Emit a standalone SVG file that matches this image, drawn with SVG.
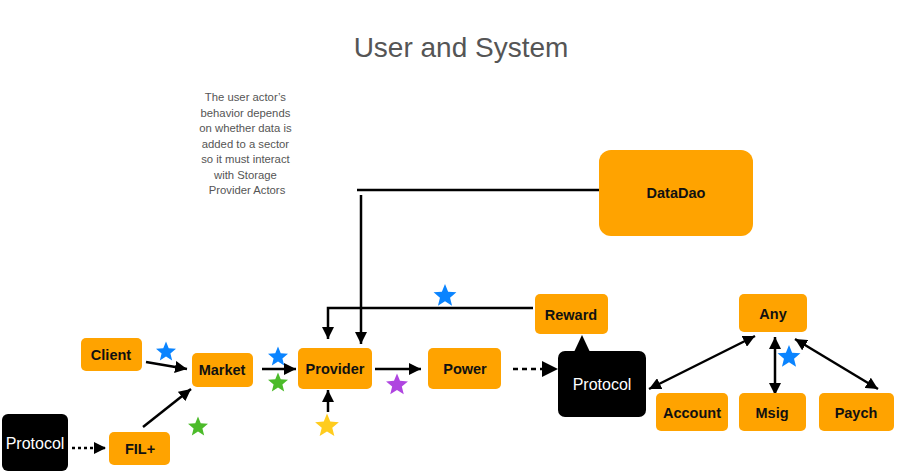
<svg xmlns="http://www.w3.org/2000/svg" width="900" height="472" viewBox="0 0 900 472">
<style>
.box{fill:#FFA300}
.blk{fill:#000}
.lbl{font-family:"Liberation Sans",Arial,sans-serif;font-weight:bold;font-size:14.5px;fill:#111;text-anchor:middle;dominant-baseline:central}
.wl{fill:#fff;font-weight:normal;font-size:16px}
.ln{fill:none;stroke:#000;stroke-width:2.5}
.note{font-family:"Liberation Sans",Arial,sans-serif;font-size:11.3px;fill:#555;text-anchor:middle}
.title{font-family:"Liberation Sans",Arial,sans-serif;font-size:28px;fill:#555;text-anchor:middle}
</style>
<defs>
<marker id="ah" markerUnits="userSpaceOnUse" markerWidth="12" markerHeight="12" refX="12" refY="6" orient="auto-start-reverse">
<path d="M0,0 L12,6 L0,12 z" fill="#000"/>
</marker>
<marker id="ahb" markerUnits="userSpaceOnUse" markerWidth="16" markerHeight="16" refX="16" refY="8" orient="auto">
<path d="M0,0 L16,8 L0,16 z" fill="#000"/>
</marker>
<path id="star" d="M0,-10 L2.6,-3.6 L9.51,-3.09 L4.2,1.4 L5.88,8.09 L0,4.4 L-5.88,8.09 L-4.2,1.4 L-9.51,-3.09 L-2.6,-3.6 z"/>
</defs>
<rect width="900" height="472" fill="#fff"/>
<text class="title" x="461" y="57">User and System</text>
<text class="note">
<tspan x="247" y="101">The user actor’s</tspan>
<tspan x="247" y="117">behavior depends</tspan>
<tspan x="247" y="132">on whether data is</tspan>
<tspan x="247" y="148">added to a sector</tspan>
<tspan x="247" y="163">so it must interact</tspan>
<tspan x="247" y="179">with Storage</tspan>
<tspan x="247" y="194">Provider Actors</tspan>
</text>
<g id="connectors">
<path class="ln" d="M599,190 H357"/>
<path class="ln" d="M361,195 V344" marker-end="url(#ah)"/>
<path class="ln" d="M533,308 H328 V339" marker-end="url(#ah)"/>
<path class="ln" d="M146,362 L187,369" marker-end="url(#ah)"/>
<path class="ln" d="M143,427 L191,389" marker-end="url(#ah)"/>
<path class="ln" d="M72,448 H106" stroke-dasharray="3 3" marker-end="url(#ah)"/>
<path class="ln" d="M262,369 H296" marker-end="url(#ah)"/>
<path class="ln" d="M375,369 H421" marker-end="url(#ah)"/>
<path class="ln" d="M328,412 V390" marker-end="url(#ah)"/>
<path class="ln" d="M513,369 H558" stroke-width="4.5" stroke-dasharray="5 4" marker-end="url(#ahb)"/>
<polygon points="574,352 590,352 582,335" fill="#000"/>
<path class="ln" d="M649,389 L755,336" marker-start="url(#ah)" marker-end="url(#ah)"/>
<path class="ln" d="M775,337 V395" marker-start="url(#ah)" marker-end="url(#ah)"/>
<path class="ln" d="M795,339 L878,389" marker-start="url(#ah)" marker-end="url(#ah)"/>
</g>
<g id="datadao"><rect class="box" x="599" y="150" width="154" height="86" rx="12"/><text class="lbl" x="676" y="193">DataDao</text></g>
<g id="client"><rect class="box" x="81" y="338" width="61" height="33" rx="5"/><text class="lbl" x="111" y="355">Client</text></g>
<g id="market"><rect class="box" x="192" y="353" width="61" height="34" rx="5"/><text class="lbl" x="222" y="370">Market</text></g>
<g id="provider"><rect class="box" x="298" y="348" width="74" height="41" rx="5"/><text class="lbl" x="335" y="369">Provider</text></g>
<g id="power"><rect class="box" x="428" y="348" width="73" height="41" rx="5"/><text class="lbl" x="465" y="369">Power</text></g>
<g id="filplus"><rect class="box" x="109" y="432" width="61" height="33" rx="5"/><text class="lbl" x="140" y="449">FIL+</text></g>
<g id="protocol-left"><rect class="blk" x="2" y="414" width="66" height="57" rx="6"/><text class="lbl wl" x="35" y="443">Protocol</text></g>
<g id="protocol"><rect class="blk" x="558" y="351" width="88" height="66" rx="7"/><text class="lbl wl" x="602" y="384">Protocol</text></g>
<g id="reward"><rect class="box" x="535" y="294" width="73" height="40" rx="5"/><text class="lbl" x="571" y="315">Reward</text></g>
<g id="any"><rect class="box" x="739" y="294" width="68" height="38" rx="5"/><text class="lbl" x="773" y="314">Any</text></g>
<g id="account"><rect class="box" x="656" y="393" width="72" height="38" rx="5"/><text class="lbl" x="692" y="413">Account</text></g>
<g id="msig"><rect class="box" x="739" y="393" width="67" height="38" rx="5"/><text class="lbl" x="772" y="413">Msig</text></g>
<g id="paych"><rect class="box" x="819" y="393" width="75" height="38" rx="5"/><text class="lbl" x="856" y="413">Paych</text></g>
<g id="stars">
<use href="#star" fill="#0A84FF" transform="translate(166,352) scale(1.05)"/>
<use href="#star" fill="#0A84FF" transform="translate(278,357) scale(1.05)"/>
<use href="#star" fill="#4CBB2A" transform="translate(278,383) scale(1.05)"/>
<use href="#star" fill="#4CBB2A" transform="translate(198,427) scale(1.05)"/>
<use href="#star" fill="#FFCC1E" transform="translate(327,426) scale(1.25)"/>
<use href="#star" fill="#AF45E0" transform="translate(397,385) scale(1.15)"/>
<use href="#star" fill="#0A84FF" transform="translate(445,296) scale(1.2)"/>
<use href="#star" fill="#0A84FF" transform="translate(789,357) scale(1.2)"/>
</g>
</svg>
